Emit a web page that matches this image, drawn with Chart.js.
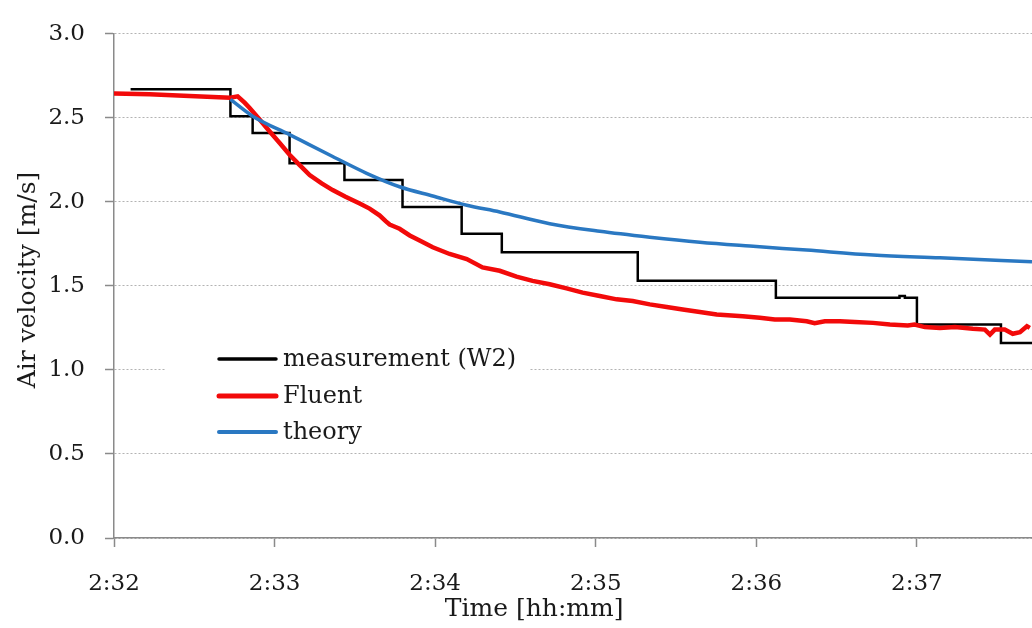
<!DOCTYPE html>
<html>
<head>
<meta charset="utf-8">
<script src="https://cdn.jsdelivr.net/npm/chart.js@4.4.1/dist/chart.umd.min.js"></script>
<style>
  html, body { margin: 0; padding: 0; background: #ffffff; }
  #wrap { width: 1032px; height: 628px; position: relative; }
</style>
</head>
<body>
<div id="wrap"><canvas id="c" width="1032" height="628"></canvas></div>
<script>
// ---- data (time in seconds after 2:32:00) ----
const xTickValues = [0, 60, 120, 180, 240, 300];
const xTickLabels = ['2:32', '2:33', '2:34', '2:35', '2:36', '2:37'];
const yTickValues = [0, 0.5, 1.0, 1.5, 2.0, 2.5, 3.0];

const measT = [6.2, 43.5, 51.8, 65.6, 86.1, 107.8, 129.9, 144.9, 195.7, 247.3, 293.5, 295.5, 300.0, 331.4, 343.0];
const measV = [2.67, 2.51, 2.41, 2.23, 2.13, 1.97, 1.81, 1.70, 1.53, 1.43, 1.44, 1.43, 1.27, 1.16, 1.16];

const fluentT = [0, 13.3, 28.2, 43.5, 46.2, 48.8, 50.6, 54.4, 58.1, 61.9, 65.6, 69.3, 73.1, 77.6, 81.7, 86.5,
  91.8, 95.5, 99.2, 101.5, 103.0, 104.5, 106.7, 110.5, 114.2, 119.1, 125.4, 131.8, 137.7, 144.1, 150.4,
  156.4, 162.8, 169.1, 175.1, 181.5, 187.8, 193.8, 200.2, 206.5, 212.5, 218.9, 225.2, 234.9, 241.3,
  246.9, 252.5, 258.8, 261.8, 265.6, 271.2, 276.8, 283.6, 289.9, 296.6, 299.1, 303.0, 308.6, 314.2,
  320.9, 325.4, 327.3, 329.1, 332.8, 335.8, 338.5, 341.1, 342.2];
const fluentV = [2.645, 2.64, 2.63, 2.62, 2.628, 2.59, 2.56, 2.49, 2.42, 2.35, 2.28, 2.22, 2.16, 2.11, 2.07, 2.03,
  1.99, 1.96, 1.92, 1.885, 1.865, 1.855, 1.84, 1.80, 1.77, 1.73, 1.69, 1.66, 1.61, 1.59, 1.555,
  1.53, 1.51, 1.485, 1.46, 1.44, 1.42, 1.41, 1.39, 1.375, 1.36, 1.345, 1.33, 1.32, 1.31,
  1.30, 1.30, 1.29, 1.278, 1.29, 1.29, 1.285, 1.28, 1.27, 1.265, 1.27, 1.255, 1.25, 1.255,
  1.245, 1.24, 1.21, 1.24, 1.24, 1.215, 1.225, 1.26, 1.25];

const theoryT = [43.5, 51.8, 65.6, 69.3, 81.7, 94.4, 106.7, 119.1, 131.8, 144.1, 162.8, 181.5, 200.2, 218.9, 237.6, 258.8, 283.6, 308.6, 343.0];
const theoryV = [2.61, 2.51, 2.40, 2.37, 2.27, 2.17, 2.09, 2.035, 1.98, 1.94, 1.87, 1.825, 1.79, 1.76, 1.737, 1.713, 1.684, 1.667, 1.643];

const seriesNames = ['measurement (W2)', 'Fluent', 'theory'];
const seriesColors = ['#000000', '#f20a0a', '#2a78c2'];

function pts(ts, vs) { return ts.map((t, i) => ({ x: t, y: vs[i] })); }

const FONT = "'DejaVu Serif', 'Liberation Serif', serif";
const TXT = '#1a1a1a';
const AXIS = '#8a8a8a';

const overlay = {
  id: 'overlay',
  beforeDatasetsDraw(chart) {
    const ctx = chart.ctx;
    ctx.save();
    ctx.fillStyle = '#ffffff';
    ctx.fillRect(166, 340, 364, 107);
    ctx.restore();
  },
  afterDraw(chart) {
    const ctx = chart.ctx;
    ctx.save();
    // legend
    const rows = [359, 396, 432];
    const widths = [3.5, 5, 4];
    rows.forEach((y, i) => {
      ctx.strokeStyle = seriesColors[i];
      ctx.lineWidth = widths[i];
      ctx.lineCap = 'round';
      ctx.beginPath();
      ctx.moveTo(219, y);
      ctx.lineTo(276, y);
      ctx.stroke();
      ctx.fillStyle = TXT;
      ctx.font = "24px " + FONT;
      ctx.textAlign = 'left';
      ctx.textBaseline = 'middle';
      ctx.fillText(seriesNames[i], 283, y + 1);
    });
    // axis titles
    const xs = chart.scales.x;
    ctx.font = "25px " + FONT;
    ctx.fillStyle = TXT;
    ctx.textAlign = 'center';
    ctx.textBaseline = 'middle';
    ctx.fillText('Time [hh:mm]', xs.getPixelForValue(157), 609);
    ctx.translate(28, 280);
    ctx.rotate(-Math.PI / 2);
    ctx.fillText('Air velocity [m/s]', 0, 0);
    ctx.restore();
  }
};

new Chart(document.getElementById('c'), {
  type: 'line',
  data: {
    datasets: [
      { label: seriesNames[0], data: pts(measT, measV), borderColor: seriesColors[0], borderWidth: 2.5,
        stepped: 'before', pointRadius: 0, order: 3 },
      { label: seriesNames[1], data: pts(fluentT, fluentV), borderColor: seriesColors[1], borderWidth: 4.5,
        tension: 0, pointRadius: 0, order: 2 },
      { label: seriesNames[2], data: pts(theoryT, theoryV), borderColor: seriesColors[2], borderWidth: 3.5,
        cubicInterpolationMode: 'monotone', pointRadius: 0, order: 1 }
    ]
  },
  options: {
    responsive: false,
    animation: false,
    layout: { padding: { top: 24, right: 0, left: 0, bottom: 0 } },
    plugins: { legend: { display: false }, tooltip: { enabled: false } },
    scales: {
      x: {
        type: 'linear',
        min: 0,
        max: 343,
        afterBuildTicks(scale) { scale.ticks = xTickValues.map(v => ({ value: v })); },
        afterFit(scale) { scale.height = 90; },
        ticks: {
          callback: (v, i) => xTickLabels[i],
          font: { family: FONT, size: 23 },
          color: TXT,
          padding: 23,
          maxRotation: 0,
          autoSkip: false
        },
        grid: { drawOnChartArea: false, drawTicks: true, tickLength: 9, tickColor: AXIS, tickWidth: 1.5 },
        border: { display: true, color: AXIS, width: 1.5 }
      },
      y: {
        type: 'linear',
        min: 0,
        max: 3,
        afterBuildTicks(scale) { scale.ticks = yTickValues.map(v => ({ value: v })); },
        afterFit(scale) { scale.width = 114; },
        ticks: {
          callback: (v) => Number(v).toFixed(1),
          font: { family: FONT, size: 23 },
          color: TXT,
          padding: 20
        },
        grid: { color: '#b3b3b3', lineWidth: 1, drawTicks: true, tickLength: 9, tickColor: AXIS,
                tickWidth: 1.5, tickBorderDash: [] },
        border: { display: true, color: AXIS, width: 1.5, dash: [2, 2] }
      }
    }
  },
  plugins: [overlay]
});
</script>
</body>
</html>
